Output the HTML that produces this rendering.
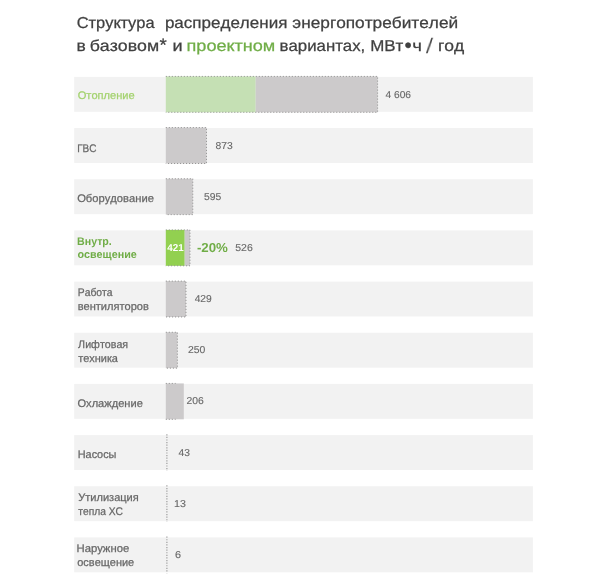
<!DOCTYPE html>
<html lang="ru">
<head>
<meta charset="utf-8">
<title>Структура распределения энергопотребителей</title>
<style>
html,body{margin:0;padding:0;background:#fff;}
body{text-rendering:geometricPrecision;width:610px;height:584px;position:relative;overflow:hidden;font-family:"Liberation Sans", sans-serif;}
.w{position:absolute;left:0;top:0;white-space:pre;font-kerning:none;line-height:1;transform-origin:0 0;display:block;}
.b{font-weight:bold;}
.s{-webkit-text-stroke:0.25px currentColor;}
.n{-webkit-text-stroke:0.12px currentColor;}
svg{position:absolute;left:0;top:0;filter:blur(0.35px);}
.w{filter:blur(0.35px);}
</style>
</head>
<body>

<svg width="610" height="584" viewBox="0 0 610 584">
<g fill="#f2f2f2">
<rect x="74.2" y="76.90" width="458.7" height="34.90"/>
<rect x="74.2" y="128.07" width="458.7" height="34.90"/>
<rect x="74.2" y="179.24" width="458.7" height="34.90"/>
<rect x="74.2" y="230.41" width="458.7" height="34.90"/>
<rect x="74.2" y="281.58" width="458.7" height="34.90"/>
<rect x="74.2" y="332.75" width="458.7" height="34.90"/>
<rect x="74.2" y="383.92" width="458.7" height="34.90"/>
<rect x="74.2" y="435.09" width="458.7" height="34.90"/>
<rect x="74.2" y="486.26" width="458.7" height="34.90"/>
<rect x="74.2" y="537.43" width="458.7" height="34.90"/>
</g>
<rect x="165.80" y="76.40" width="89.90" height="35.90" fill="#c5e0b4"/>
<rect x="255.70" y="76.40" width="121.90" height="35.90" fill="#cccacb"/>
<rect x="165.80" y="127.57" width="40.70" height="35.90" fill="#cccacb"/>
<rect x="165.80" y="178.74" width="27.00" height="35.90" fill="#cccacb"/>
<rect x="165.80" y="229.91" width="18.90" height="35.90" fill="#92d050"/>
<rect x="184.70" y="229.91" width="5.30" height="35.90" fill="#cccacb"/>
<rect x="165.80" y="281.08" width="20.20" height="35.90" fill="#cccacb"/>
<rect x="165.80" y="332.25" width="11.60" height="35.90" fill="#cccacb"/>
<rect x="165.80" y="383.42" width="18.00" height="35.90" fill="#cccacb"/>
<g fill="none" stroke="#8e8e8e" stroke-width="1" stroke-dasharray="1 2">
<path d="M165.80 76.40H377.60V112.30H165.80"/>
<path d="M165.80 127.57H206.50V163.47H165.80"/>
<path d="M165.80 178.74H192.80V214.64H165.80"/>
<path d="M165.80 229.91H190.00V265.81H165.80"/>
<path d="M165.80 281.08H186.00V316.98H165.80"/>
<path d="M165.80 332.25H177.40V368.15H165.80"/>
<path d="M165.80 383.42H175.6M165.80 419.32H175.6"/>
<path d="M166.9 434.19V470.79" stroke-dasharray="1.2 1.4" stroke-width="1.1" stroke="#959595"/>
<path d="M166.9 485.36V521.96" stroke-dasharray="1.2 1.4" stroke-width="1.1" stroke="#959595"/>
<path d="M166.9 536.53V573.13" stroke-dasharray="1.2 1.4" stroke-width="1.1" stroke="#959595"/>
</g></svg>
<span class="w s" style="font-size:15.8px;color:#404040;transform:translate(76.67px,16px) scaleX(1.0397)">Структура</span>
<span class="w s" style="font-size:15.8px;color:#404040;transform:translate(164.90px,16px) scaleX(1.0770)">распределения</span>
<span class="w s" style="font-size:15.8px;color:#404040;transform:translate(292.34px,16px) scaleX(1.0926)">энергопотребителей</span>
<span class="w s" style="font-size:15.8px;color:#404040;transform:translate(76.39px,39px) scaleX(1.1041)">в</span>
<span class="w s" style="font-size:15.8px;color:#404040;transform:translate(89.66px,39px) scaleX(1.1219)">базовом</span>
<span class="w s" style="font-size:18px;color:#404040;transform:translate(159.60px,36px) scaleX(1.0414)">*</span>
<span class="w s" style="font-size:15.8px;color:#404040;transform:translate(172.55px,39px) scaleX(1.1455)">и</span>
<span class="w s" style="font-size:15.8px;color:#70ad47;transform:translate(186.54px,39px) scaleX(1.1467)">проектном</span>
<span class="w s" style="font-size:15.8px;color:#404040;transform:translate(279.53px,39px) scaleX(1.0640)">вариантах,</span>
<span class="w s" style="font-size:15.8px;color:#404040;transform:translate(370.21px,39px) scaleX(1.0725)">МВт</span>
<span class="w s" style="font-size:20.3px;color:#404040;transform:translate(404.58px,36px) scaleX(1.0180)">•</span>
<span class="w s" style="font-size:15.8px;color:#404040;transform:translate(412.29px,39px) scaleX(1.1798)">ч</span>
<span class="w" style="font-size:21px;color:#404040;transform:translate(427.34px,36px) skewX(-4.5deg)">/</span>
<span class="w s" style="font-size:15.8px;color:#404040;transform:translate(437.89px,39px) scaleX(1.1069)">год</span>
<span class="w s" style="font-size:11px;color:#a3d26e;transform:translate(77.67px,91px) scaleX(1.0084)">Отопление</span>
<span class="w s" style="font-size:11px;color:#676767;transform:translate(77.18px,144px) scaleX(0.9038)">ГВС</span>
<span class="w s" style="font-size:11px;color:#676767;transform:translate(77.17px,194px) scaleX(1.0172)">Оборудование</span>
<span class="w b" style="font-size:11px;color:#70ad47;transform:translate(77.09px,237px) scaleX(0.9687)">Внутр.</span>
<span class="w b" style="font-size:11px;color:#70ad47;transform:translate(77.38px,250px) scaleX(0.9794)">освещение</span>
<span class="w s" style="font-size:11px;color:#676767;transform:translate(77.75px,288px) scaleX(0.9384)">Работа</span>
<span class="w s" style="font-size:11px;color:#676767;transform:translate(77.63px,302px) scaleX(1.0059)">вентиляторов</span>
<span class="w s" style="font-size:11px;color:#676767;transform:translate(78.11px,340px) scaleX(0.9718)">Лифтовая</span>
<span class="w s" style="font-size:11px;color:#676767;transform:translate(78.21px,354px) scaleX(0.9970)">техника</span>
<span class="w s" style="font-size:11px;color:#676767;transform:translate(77.48px,399px) scaleX(1.0076)">Охлаждение</span>
<span class="w s" style="font-size:11px;color:#676767;transform:translate(77.71px,450px) scaleX(0.9914)">Насосы</span>
<span class="w s" style="font-size:11px;color:#676767;transform:translate(78.30px,493px) scaleX(1.0027)">Утилизация</span>
<span class="w s" style="font-size:11px;color:#676767;transform:translate(78.22px,507px) scaleX(0.9329)">тепла ХС</span>
<span class="w s" style="font-size:11px;color:#676767;transform:translate(76.47px,544px) scaleX(1.0269)">Наружное</span>
<span class="w s" style="font-size:11px;color:#676767;transform:translate(77.24px,558px) scaleX(0.9976)">освещение</span>
<span class="w n" style="font-size:10px;color:#676767;transform:translate(385.47px,91px) scaleX(1.0183)">4 606</span>
<span class="w n" style="font-size:10px;color:#676767;transform:translate(215.45px,142px) scaleX(1.0373)">873</span>
<span class="w n" style="font-size:10px;color:#676767;transform:translate(203.89px,193px) scaleX(1.0338)">595</span>
<span class="w n" style="font-size:10px;color:#676767;transform:translate(235.28px,244px) scaleX(1.0477)">526</span>
<span class="w n" style="font-size:10px;color:#676767;transform:translate(194.66px,295px) scaleX(1.0262)">429</span>
<span class="w n" style="font-size:10px;color:#676767;transform:translate(187.98px,346px) scaleX(1.0386)">250</span>
<span class="w n" style="font-size:10px;color:#676767;transform:translate(186.38px,397px) scaleX(1.0354)">206</span>
<span class="w n" style="font-size:10px;color:#676767;transform:translate(178.56px,449px) scaleX(1.0331)">43</span>
<span class="w n" style="font-size:10px;color:#676767;transform:translate(173.99px,500px) scaleX(1.0683)">13</span>
<span class="w n" style="font-size:10px;color:#676767;transform:translate(174.95px,551px) scaleX(1.0836)">6</span>
<span class="w b" style="font-size:10px;color:#ffffff;transform:translate(167.25px,244px) scaleX(0.9843)">421</span>
<span class="w b" style="font-size:13px;color:#70ad47;transform:translate(196.88px,241px) scaleX(1.0204)">-20%</span>
</body>
</html>
